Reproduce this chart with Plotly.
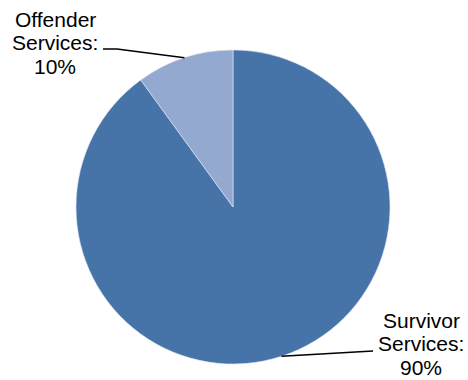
import math
import plotly.graph_objects as go

# Share of funding by service area (drawn clockwise from 12 o'clock)
categories = ["Survivor Services", "Offender Services"]
percentages = [90, 10]
colors = ["#4674A8", "#94A9CF"]

W, H = 468, 380
CX, CY, R = 233, 207, 157  # pie centre and radius in pixels


def px_to_paper(x, y):
    return x / W, 1 - y / H


fig = go.Figure(
    go.Pie(
        labels=categories,
        values=percentages,
        sort=False,
        direction="clockwise",
        rotation=0,
        textinfo="none",
        hoverinfo="label+percent",
        marker=dict(colors=colors, line=dict(color="#dfe6f0", width=0.6)),
        domain=dict(x=[(CX - R) / W, (CX + R) / W],
                    y=[(H - CY - R) / H, (H - CY + R) / H]),
        showlegend=False,
    )
)

# Leader line endpoints sit on the rim at each slice's mid-angle (clockwise from top)
total = sum(percentages)
start = 0.0
mid_points = []
for v in percentages:
    mid = start + v / total * 360 / 2
    a = math.radians(mid)
    mid_points.append((CX + R * math.sin(a), CY - R * math.cos(a)))
    start += v / total * 360

label_font = dict(family="Liberation Sans, Arial, sans-serif", size=21, color="#000000")

# label centre x and first line centre y (px), line step, leader elbows (px)
label_pos = [(421, 320), (55, 19)]
line_step = 23.5
elbows = [[(373, 351)], [(103, 49), (117, 49)]]

shapes = []
annotations = []
for i, (cat, v) in enumerate(zip(categories, percentages)):
    words = cat.split(" ")
    lines = words[:-1] + [words[-1] + ":", f"{v}%"]
    lx, ly = label_pos[i]
    for k, line in enumerate(lines):
        ax_, ay_ = px_to_paper(lx, ly + k * line_step)
        annotations.append(dict(
            x=ax_, y=ay_, xref="paper", yref="paper", text=line, showarrow=False,
            xanchor="center", yanchor="middle", align="center", font=label_font,
        ))
    pts = elbows[i] + [mid_points[i]]
    path = ""
    for j, (x, y) in enumerate(pts):
        px_, py_ = px_to_paper(x, y)
        path += ("M" if j == 0 else " L") + f" {px_:.5f} {py_:.5f}"
    shapes.append(dict(type="path", xref="paper", yref="paper", path=path,
                       line=dict(color="#000000", width=1.6)))

fig.update_layout(
    width=W, height=H,
    margin=dict(l=0, r=0, t=0, b=0),
    paper_bgcolor="white", plot_bgcolor="white",
    annotations=annotations,
    shapes=shapes,
)

fig.write_html("out.html")
